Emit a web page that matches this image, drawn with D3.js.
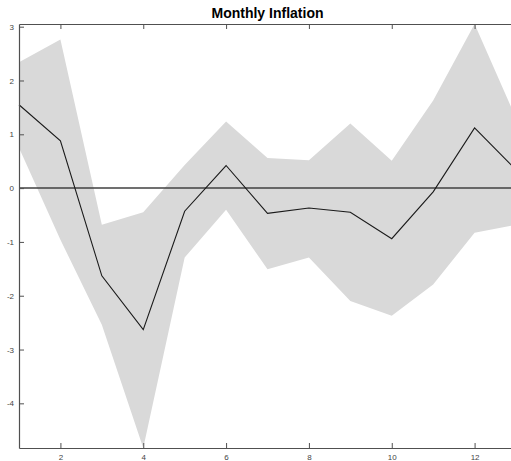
<!DOCTYPE html>
<html><head><meta charset="utf-8">
<script src="https://cdn.jsdelivr.net/npm/d3@7"></script>
<style>body{margin:0;background:#fff;}svg{display:block;}</style>
</head><body>
<script>
const months = [1,2,3,4,5,6,7,8,9,10,11,12,13];
const meanVals = [1.55,0.88,-1.63,-2.63,-0.43,0.42,-0.47,-0.37,-0.45,-0.94,-0.07,1.12,0.34];
const upperVals = [2.34,2.76,-0.68,-0.45,0.43,1.24,0.56,0.52,1.2,0.51,1.63,3.05,1.3];
const lowerVals = [0.75,-0.96,-2.54,-4.83,-1.29,-0.40,-1.51,-1.29,-2.1,-2.37,-1.79,-0.83,-0.68];
const xTicks = [2,4,6,8,10,12];
const yTicks = [-4,-3,-2,-1,0,1,2,3];
const title = "Monthly Inflation";

const W = 511, H = 461;
const L = 19, R = 516, T = 24, B = 448;
const svg = d3.select("body").append("svg").attr("width", W).attr("height", H);
const x = d3.scaleLinear().domain([1,13]).range([L,R]);
const y = d3.scaleLinear().domain([-4.83,3.05]).range([B,T]);

const data = months.map((m,i)=>({m, mean:meanVals[i], up:upperVals[i], lo:lowerVals[i]}));

svg.append("path").datum(data)
  .attr("d", d3.area().x(d=>x(d.m)).y0(d=>y(d.lo)).y1(d=>y(d.up)))
  .attr("fill","#d9d9d9");

svg.append("line").attr("x1",L).attr("x2",R).attr("y1",y(0)).attr("y2",y(0))
  .attr("stroke","#404040").attr("stroke-width",1.5);

svg.append("path").datum(data)
  .attr("d", d3.line().x(d=>x(d.m)).y(d=>y(d.mean)))
  .attr("fill","none").attr("stroke","#1a1a1a").attr("stroke-width",1.1);

const axColor = "#505050";
const fs = "8px";
const fmt = d => String(d);
const gB = svg.append("g").attr("transform",`translate(0,${B})`)
  .call(d3.axisBottom(x).tickValues(xTicks).tickSizeInner(-5).tickSizeOuter(0).tickPadding(6).tickFormat(fmt));
const gT = svg.append("g").attr("transform",`translate(0,${T})`)
  .call(d3.axisTop(x).tickValues(xTicks).tickSizeInner(-5).tickSizeOuter(0).tickFormat(""));
const gL = svg.append("g").attr("transform",`translate(${L},0)`)
  .call(d3.axisLeft(y).tickValues(yTicks).tickSizeInner(-5).tickSizeOuter(0).tickPadding(5).tickFormat(fmt));
const gR = svg.append("g").attr("transform",`translate(${R},0)`)
  .call(d3.axisRight(y).tickValues(yTicks).tickSizeInner(-5).tickSizeOuter(0).tickFormat(""));
[gB,gT,gL,gR].forEach(g=>{
  g.select(".domain").attr("stroke",axColor).attr("stroke-width",1.2);
  g.selectAll(".tick line").attr("stroke",axColor).attr("stroke-width",1);
  g.selectAll("text").attr("fill","#444").style("font-size",fs).style("font-family","'Liberation Sans', Arial, sans-serif");
});

svg.append("text").attr("x",(L+R)/2).attr("y",17.5).attr("text-anchor","middle")
  .style("font-family","'Liberation Sans', Arial, sans-serif").style("font-weight","bold").style("font-size","14px")
  .attr("fill","#000").text(title);
</script>
</body></html>
